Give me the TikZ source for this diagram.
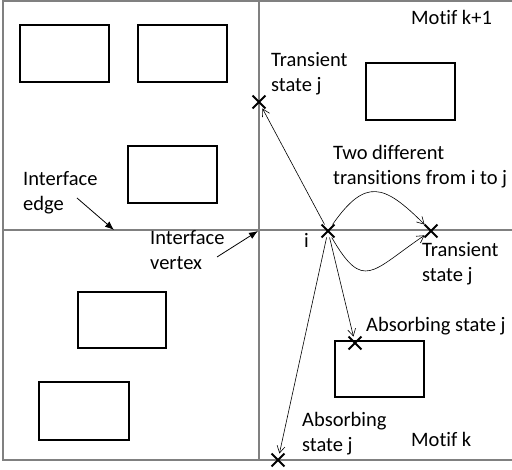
\documentclass[tikz,border=0pt]{standalone}
\usepackage{fontspec}
\setmainfont{Carlito}[Ligatures=NoCommon]
\usetikzlibrary{shapes.misc,arrows.meta}
\begin{document}
\begin{tikzpicture}
    [
    x=1pt,y=1pt,
    state/.style={cross out,draw,line width=1.9pt,inner sep=0pt,minimum size=11pt},
    motif/.style={draw,line width=1.3pt},
    border/.style={draw=gray,line width=1.1pt},
    txt/.style={anchor=base west,inner sep=0pt,align=left,font=\fontsize{20.5}{25}\selectfont},
    trans/.style={-{Straight Barb[length=7pt,width=8pt]},line width=0.6pt},
    pointer/.style={-{Latex[length=9pt,width=7pt]},line width=0.8pt}
    ]
    \useasboundingbox (0,0) rectangle (512,470);
    % frame and interface edge
    \draw [border] (512,469) -- (3,469) -- (3,10) -- (512,10);
    \draw [border] (259,469) -- (259,10);
    \draw [border] (3,240) -- (512,240);
    % motif boxes
    \draw [motif] (20,388) rectangle (109,445);
    \draw [motif] (138,388) rectangle (227,445);
    \draw [motif] (128,267) rectangle (217,324);
    \draw [motif] (366,350) rectangle (455,407);
    \draw [motif] (78,122) rectangle (166,178);
    \draw [motif] (39,30) rectangle (129,88);
    \draw [motif] (335,73) rectangle (424,129);
    % states
    \node (i) at (328,239) [state] {};
    \node (tj1) at (259,368) [state] {};
    \node (tj2) at (431,239) [state] {};
    \node (aj1) at (355,127) [state] {};
    \node (aj2) at (278,10) [state] {};
    \coordinate (ie) at (114,240);
    \coordinate (iv) at (258,239);
    % labels (base = last line)
    \node (mk1) at (411,445) [txt] {Motif k+1};
    \node (mk) at (411,23) [txt] {Motif k};
    \node (ltj1) at (271,378) [txt] {Transient\\state j};
    \node (ltj2) at (422,188) [txt] {Transient\\state j};
    \node (laj1) at (366,138) [txt] {Absorbing state j};
    \node (laj2) at (302,18) [txt] {Absorbing\\state j};
    \node (ltwo) at (333,285) [txt] {Two different\\transitions from i to j};
    \node (li) at (304,222) [txt] {i};
    \node (lie) at (23,259) [txt] {Interface\\edge};
    \node (liv) at (150,200) [txt] {Interface\\vertex};
    \coordinate (lies) at (77,272);
    \coordinate (livs) at (217,213);
    % transitions
    \draw [trans] (i) to (tj1);
    \draw [trans] (i) to [out=55,in=135,looseness=1.6] (tj2);
    \draw [trans] (i) to [out=-60,in=-146,looseness=1.75] (tj2);
    \draw [trans] (i) to (aj1);
    \draw [trans] (i) to (aj2);
    \draw [pointer] (lies) to (ie);
    \draw [pointer] (livs) to (iv);
  \end{tikzpicture}
\end{document}
